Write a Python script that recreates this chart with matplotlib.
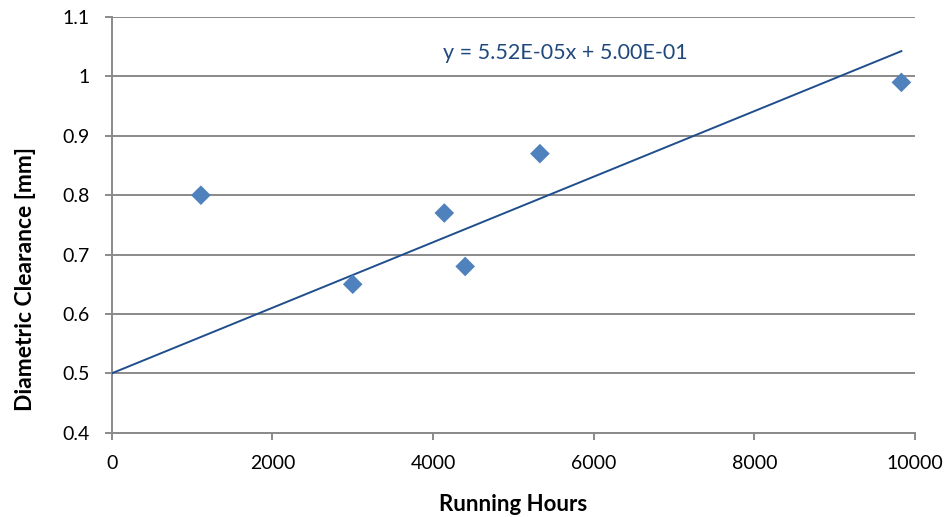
import matplotlib
matplotlib.use("Agg")
import matplotlib.pyplot as plt
import numpy as np

# Measured clearance versus running hours
running_hours = [1110, 3000, 4140, 4400, 5330, 9830]
clearance_mm = [0.80, 0.65, 0.77, 0.68, 0.87, 0.99]

# Linear trend line coefficients
slope = 5.52e-05
intercept = 5.00e-01

x_ticks = [0, 2000, 4000, 6000, 8000, 10000]
y_ticks = [0.4, 0.5, 0.6, 0.7, 0.8, 0.9, 1.0, 1.1]
y_tick_labels = ["0.4", "0.5", "0.6", "0.7", "0.8", "0.9", "1", "1.1"]

plt.rcParams["font.family"] = ["Lato", "DejaVu Sans"]

fig = plt.figure(figsize=(9.5, 5.17), dpi=100)
ax = fig.add_axes([0.1176, 0.163, 0.8456, 0.804])

grid_color = "#8a8a8a"
ax.set_xlim(0, 10000)
ax.set_ylim(0.4, 1.1)
ax.set_xticks(x_ticks)
ax.set_yticks(y_ticks)
ax.set_yticklabels(y_tick_labels)
ax.yaxis.grid(True, color=grid_color, linewidth=1.4)
ax.set_axisbelow(True)

for side in ("top", "right"):
    ax.spines[side].set_visible(False)
for side in ("left", "bottom"):
    ax.spines[side].set_color(grid_color)
    ax.spines[side].set_linewidth(1.4)
ax.tick_params(axis="both", direction="out", length=5, width=1.4,
               color=grid_color, labelsize=14, labelcolor="black")
ax.tick_params(axis="x", pad=11)
ax.tick_params(axis="y", pad=11)

# Trend line across the data range
x_line = np.array([0, max(running_hours)])
ax.plot(x_line, slope * x_line + intercept, color="#1f4e8c", linewidth=1.4, zorder=3)

ax.scatter(running_hours, clearance_mm, marker="D", s=100, color="#4f81bd",
           edgecolors="none", zorder=4, clip_on=False)

ax.text(0.412, 0.913, f"y = {slope:.2E}x + {intercept:.2E}", transform=ax.transAxes,
        fontsize=15.5, color="#1f497d", ha="left", va="center")

ax.set_xlabel("Running Hours", fontsize=16, fontweight="bold")
ax.set_ylabel("Diametric Clearance [mm]", fontsize=16.5, fontweight="bold")
ax.xaxis.set_label_coords(0.5, -0.147)
ax.yaxis.set_label_coords(-0.094, 0.37)

fig.savefig("out.png", dpi=100)
